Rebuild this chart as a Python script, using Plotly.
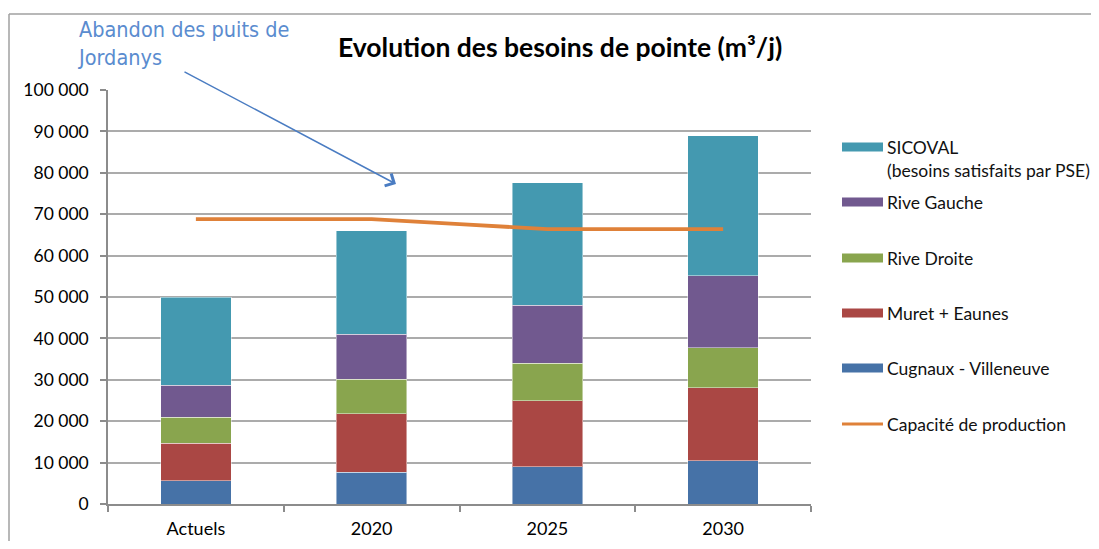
import plotly.graph_objects as go

categories = ["Actuels", "2020", "2025", "2030"]
series_names = ["Cugnaux - Villeneuve", "Muret + Eaunes", "Rive Droite", "Rive Gauche", "SICOVAL"]
cugnaux = [5600, 7700, 9000, 10400]
muret = [9100, 14100, 16000, 17700]
rive_droite = [6300, 8300, 9000, 9700]
rive_gauche = [7700, 10900, 14000, 17300]
sicoval = [21300, 25000, 29600, 33900]
capacite = [68800, 68800, 66400, 66400]
line_name = "Capacité de production"
legend_labels = ["SICOVAL<br>(besoins satisfaits par PSE)", "Rive Gauche", "Rive Droite",
                 "Muret + Eaunes", "Cugnaux - Villeneuve"]
y_ticks = list(range(0, 100001, 10000))
y_ticktext = [f"{v:,}".replace(",", " ") for v in y_ticks]

colors = ["#4672A7", "#AA4744", "#89A54E", "#71598F", "#4499B0"]
line_color = "#DF8139"
font = "Lato, Carlito, 'Open Sans', sans-serif"

fig = go.Figure()
for name, vals, col in zip(series_names, [cugnaux, muret, rive_droite, rive_gauche, sicoval], colors):
    fig.add_trace(go.Bar(x=categories, y=vals, name=name, marker_color=col,
                         marker_line=dict(color="rgba(255,255,255,0.45)", width=1),
                         width=0.4, showlegend=False))
fig.add_trace(go.Scatter(x=categories, y=capacite, name=line_name, mode="lines",
                         line=dict(color=line_color, width=3.8, shape="spline", smoothing=0.2),
                         showlegend=False))

# the page body adds an 8px margin; layout is expressed in reference pixels minus that offset
OFF = 8
W, H = 1099 - OFF, 549 - 2 * OFF
L, T = 108 - OFF, 90 - OFF
R = W - (811 - OFF)
B = H - (504 - OFF)
pw, ph = W - L - R, H - T - B

def px(xr):
    return (xr - OFF - L) / pw

def py(yr):
    return (H - B - (yr - OFF)) / ph

shapes = []
annotations = []
# outer frame (top and left edges only are visible)
shapes.append(dict(type="line", xref="paper", yref="paper", x0=px(9), x1=px(1099),
                   y0=py(14), y1=py(14), line=dict(color="#A0A0A0", width=1.5), layer="below"))
shapes.append(dict(type="line", xref="paper", yref="paper", x0=px(9), x1=px(9),
                   y0=py(14), y1=py(549), line=dict(color="#A0A0A0", width=1.5), layer="below"))

# custom legend
leg_y = [147, 202, 258, 313, 368]
leg_cols = [colors[4], colors[3], colors[2], colors[1], colors[0]]
lfs = 17.5
for yy, col, lab in zip(leg_y, leg_cols, legend_labels):
    shapes.append(dict(type="rect", xref="paper", yref="paper", x0=px(842), x1=px(883),
                       y0=py(yy + 4.5), y1=py(yy - 4.5), fillcolor=col, line=dict(width=0)))
    annotations.append(dict(xref="paper", yref="paper", x=px(885), y=py(yy - 12),
                            xanchor="left", yanchor="top", align="left", text=lab,
                            showarrow=False, font=dict(family=font, size=lfs, color="#111")))
shapes.append(dict(type="line", xref="paper", yref="paper", x0=px(842), x1=px(883),
                   y0=py(424), y1=py(424), line=dict(color=line_color, width=3)))
annotations.append(dict(xref="paper", yref="paper", x=px(885), y=py(424),
                        xanchor="left", yanchor="middle", text=line_name,
                        showarrow=False, font=dict(family=font, size=lfs, color="#111")))

# title
annotations.append(dict(xref="paper", yref="paper", x=px(560), y=py(47), xanchor="center",
                        yanchor="middle", text="<b>Evolution des besoins de pointe (m³/j)</b>",
                        showarrow=False, font=dict(family=font, size=26.5, color="#000")))
# callout text
annotations.append(dict(xref="paper", yref="paper", x=px(76), y=py(15), xanchor="left",
                        yanchor="top", align="left", text="Abandon des puits de<br>Jordanys",
                        showarrow=False,
                        font=dict(family="'DejaVu Sans Condensed', 'Liberation Sans Narrow', 'Liberation Sans', sans-serif",
                                  size=21.5, color="#5A8CCF")))
# callout arrow
annotations.append(dict(xref="paper", yref="paper", x=px(396), y=py(184), ax=-213, ay=-113,
                        axref="pixel", ayref="pixel", text="", showarrow=True, arrowhead=4,
                        arrowsize=1.8, arrowwidth=1.5, arrowcolor="#4A7CC2", standoff=0))

fig.update_layout(
    width=W, height=H, margin=dict(l=L, r=R, t=T, b=B, autoexpand=False),
    barmode="stack", plot_bgcolor="white", paper_bgcolor="white",
    shapes=shapes, annotations=annotations, showlegend=False,
    font=dict(family=font, size=17.5, color="#000"),
)
fig.update_xaxes(type="category", showline=True, linecolor="#8C8C8C", linewidth=1.5,
                 ticks="outside", tickson="boundaries", ticklen=6, tickcolor="#8C8C8C",
                 tickwidth=1.5, showgrid=False, tickfont=dict(size=18), range=[-0.5, 3.5],
                 ticklabelstandoff=8, automargin=False)
fig.update_yaxes(range=[0, 100000], tickvals=y_ticks, ticktext=y_ticktext,
                 showline=True, linecolor="#8C8C8C", linewidth=1.5, ticks="outside",
                 ticklen=6, tickcolor="#8C8C8C", tickwidth=1.5, showgrid=True,
                 gridcolor="#ABABAB", gridwidth=1.5, zeroline=False, tickfont=dict(size=17.5),
                 ticklabelstandoff=8, automargin=False)

fig.write_html("out.html")
